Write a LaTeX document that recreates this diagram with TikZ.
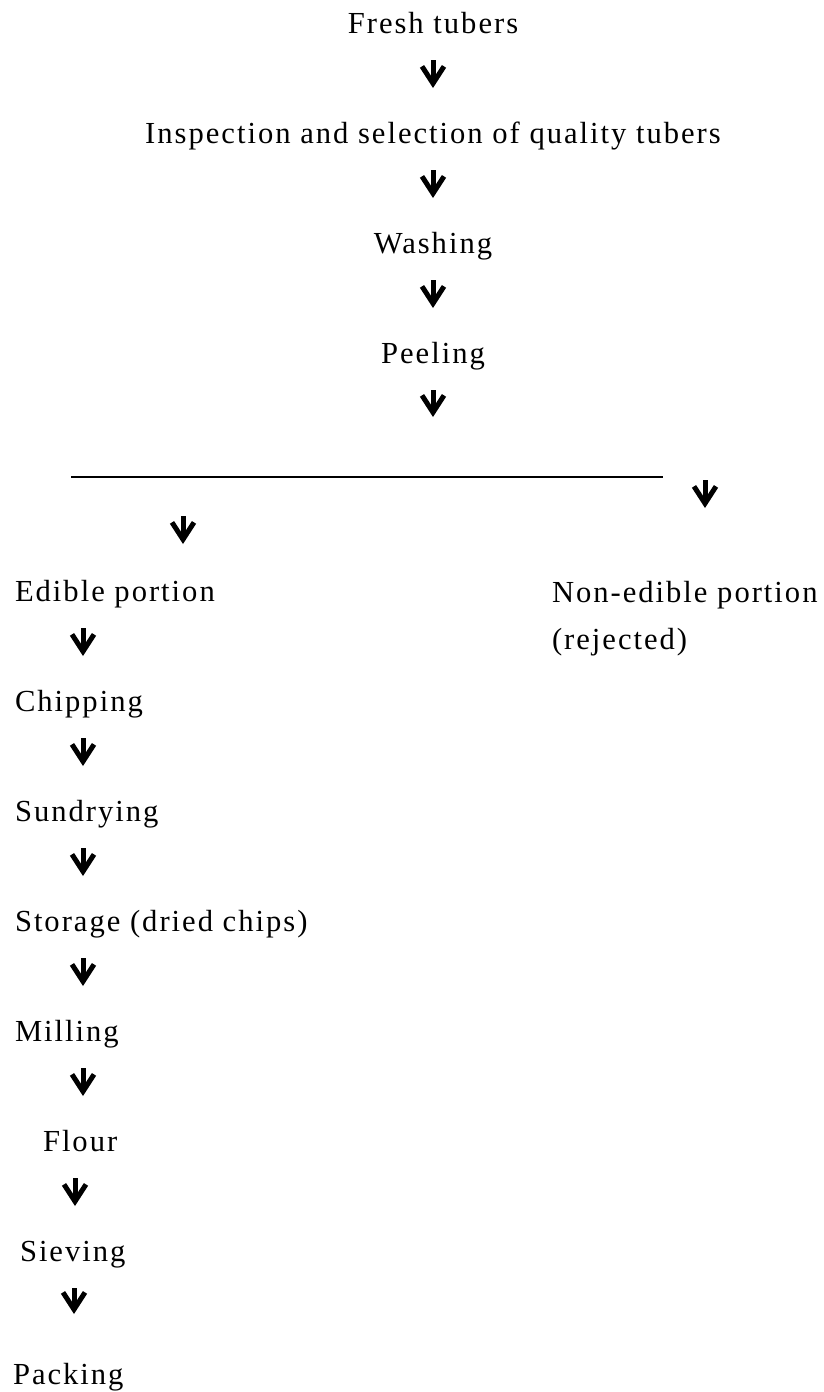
\documentclass[tikz,border=0pt]{standalone}
\usepackage{fontspec}
\setmainfont{Liberation Serif}[LetterSpace=6.5]
\usetikzlibrary{arrows.meta, positioning}

\begin{document}
\begin{tikzpicture}[
    node distance=41pt,
    stage/.style={inner sep=0pt, outer sep=0pt, text height=10.5pt, text depth=3.5pt, font=\fontsize{15.3pt}{18pt}\selectfont},
    glyph/.style={-{Straight Barb[length=8.5pt, width=11pt, sharp]}, line width=2.5pt, shorten <=10pt, shorten >=17pt}
]
    \useasboundingbox (0,0) rectangle (412pt,-696pt);

    % Main vertical pipeline
    \node[stage, anchor=base] (fresh) at (216.5pt,-16.5pt) {Fresh tubers};
    \node[stage, below=of fresh] (inspect) {Inspection and selection of quality tubers};
    \node[stage, below=of inspect] (wash) {Washing};
    \node[stage, below=of wash] (peel) {Peeling};

    \draw[glyph] (fresh) -- (inspect);
    \draw[glyph] (inspect) -- (wash);
    \draw[glyph] (wash) -- (peel);

    % Split into the two portions
    \coordinate (splitL) at (35.5pt,-238.5pt);
    \coordinate (splitR) at (331.5pt,-238.5pt);
    \draw[line width=1pt] (splitL) -- (splitR);
    \draw[glyph, shorten >=30pt] (peel) -- (peel |- splitL);

    \node[stage, anchor=base west] (edible) at (7.5pt,-300.5pt) {Edible portion};
    \node[stage, anchor=base west] (nonedible) at (276pt,-301pt) {Non-edible portion};
    \node[stage, below right=9.5pt and 0pt of nonedible.south west] (rejected) {(rejected)};

    \draw[glyph, shorten <=19.5pt, shorten >=18pt] ([xshift=56pt]splitL) coordinate (edtop) -- (edtop |- edible.north);
    \draw[glyph, shorten <=1.5pt, shorten >=36.5pt] ([xshift=21pt]splitR) coordinate (rjtop) -- (rjtop |- nonedible.north);

    % Edible portion processing
    \node[stage, below right=41pt and 0pt of edible.south west] (chip) {Chipping};
    \node[stage, below right=41pt and 0pt of chip.south west] (sundry) {Sundrying};
    \node[stage, below right=41pt and 0pt of sundry.south west] (store) {Storage (dried chips)};
    \node[stage, below right=41pt and 0pt of store.south west] (mill) {Milling};
    \node[stage, below right=41pt and 14pt of mill.south west] (flour) {Flour};
    \node[stage, below right=41pt and 0pt of flour.south west, xshift=-11.5pt] (sieve) {Sieving};
    \node[stage, below right=47.5pt and 0pt of sieve.south west, xshift=-3.5pt] (pack) {Packing};

    \foreach \a/\b/\dx/\gap in {edible/chip/34pt/17pt, chip/sundry/34pt/17pt, sundry/store/34pt/17pt, store/mill/34pt/17pt, mill/flour/34pt/17pt, flour/sieve/16pt/17pt, sieve/pack/27pt/24.5pt}
        \draw[glyph, shorten >=\gap] ([xshift=\dx]\a.south west) coordinate (arrtop) -- (arrtop |- \b.north);

\end{tikzpicture}
\end{document}
